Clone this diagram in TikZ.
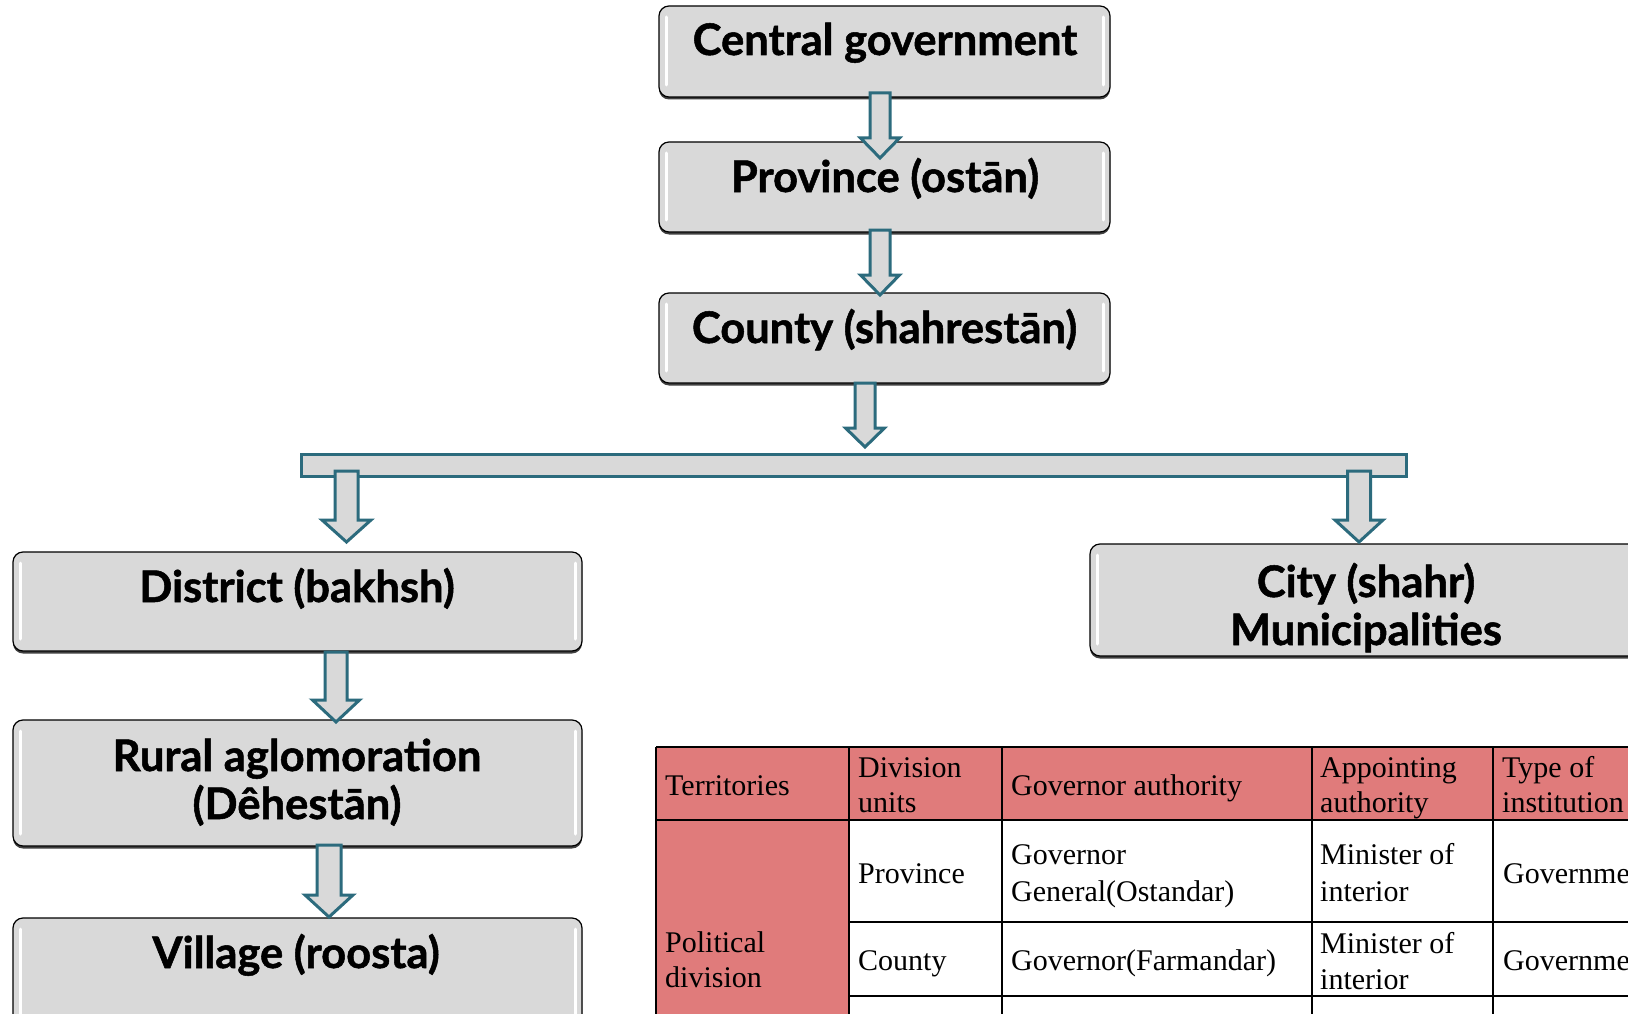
\documentclass[tikz,border=0pt]{standalone}
\usepackage{fontspec}
\setmainfont{Liberation Serif}
\newfontfamily\boxfont{Lato}[BoldFeatures={FakeBold=1.2}]
\usetikzlibrary{shadows}
\definecolor{boxgray}{HTML}{D9D9D9}
\definecolor{arrteal}{HTML}{2C6B7D}
\definecolor{tabred}{HTML}{E07B7B}
\tikzset{
 levelbox/.style={draw=black, line width=1.2pt, fill=boxgray, rounded corners=10pt, inner sep=0pt, outer sep=0pt,
   drop shadow={shadow xshift=0pt, shadow yshift=-2.5pt, fill=black!75, opacity=1}},
 boxtext/.style={font=\boxfont\bfseries\fontsize{43.5}{48}\selectfont, inner sep=0pt, anchor=base},
 hlstrip/.style={draw=white, line width=3pt, line cap=round},
 barrow/.style={draw=arrteal, fill=boxgray, line width=3pt, line join=miter},
 barstyle/.style={draw=arrteal, fill=boxgray, line width=3pt, inner sep=0pt, outer sep=0pt},
 tabtext/.style={font=\fontsize{30}{35}\selectfont, inner sep=0pt, anchor=base west},
 tabline/.style={draw=black, line width=2.2pt},
}
\newcommand\blockdown[6]{%
 \draw[barrow] ({#1-#5},#2) -- ({#1-#5},#3) -- ({#1-#6},#3) -- (#1,#4) -- ({#1+#6},#3) -- ({#1+#5},#3) -- ({#1+#5},#2) -- cycle;}
\newcommand\hlstrips[1]{%
 \draw[hlstrip] ([xshift=7pt,yshift=-11pt]#1.north west) -- ([xshift=7pt,yshift=12pt]#1.south west);
 \draw[hlstrip] ([xshift=-7pt,yshift=-11pt]#1.north east) -- ([xshift=-7pt,yshift=12pt]#1.south east);}
\begin{document}
\begin{tikzpicture}[x=1pt,y=-1pt]
\useasboundingbox (0,0) rectangle (1628,1014);
\clip (0,0) rectangle (1628,1014);
\fill[white] (0,0) rectangle (1628,1014);

% ---------- table ----------
\fill[tabred] (656,747) rectangle (1660,820);
\fill[tabred] (656,820) rectangle (849,1030);
\draw[tabline] (656,747) -- (1660,747);
\draw[tabline] (656,820) -- (1660,820);
\draw[tabline] (849,922) -- (1660,922);
\draw[tabline] (849,996) -- (1660,996);
\foreach \xx in {656,849,1002,1312,1493} \draw[tabline] (\xx,747) -- (\xx,1030);

\node[tabtext] (h1) at (665,795) {Territories};
\node[tabtext] (h2a) at (858,777) {Division};
\node[tabtext] (h2b) at (858,812) {units};
\node[tabtext] (h3) at (1011,795) {Governor authority};
\node[tabtext] (h4a) at (1320,777) {Appointing};
\node[tabtext] (h4b) at (1320,812) {authority};
\node[tabtext] (h5a) at (1502,777) {Type of};
\node[tabtext] (h5b) at (1502,812) {institution};

\node[tabtext] (r1c2) at (858,883) {Province};
\node[tabtext] (r1c3a) at (1011,864) {Governor};
\node[tabtext] (r1c3b) at (1011,901) {General(Ostandar)};
\node[tabtext] (r1c4a) at (1320,864) {Minister of};
\node[tabtext] (r1c4b) at (1320,901) {interior};
\node[tabtext] (r1c5) at (1503,883) {Government};

\node[tabtext] (r2c2) at (858,970) {County};
\node[tabtext] (r2c3) at (1011,970) {Governor(Farmandar)};
\node[tabtext] (r2c4a) at (1320,953) {Minister of};
\node[tabtext] (r2c4b) at (1320,989) {interior};
\node[tabtext] (r2c5) at (1503,970) {Government};

\node[tabtext] (pd1) at (665,952) {Political};
\node[tabtext] (pd2) at (665,987) {division};

% ---------- boxes ----------
\node[levelbox, minimum width=451, minimum height=91] (cg) at (884.5,51.5) {};
\node[levelbox, minimum width=451, minimum height=90] (prov) at (884.5,187) {};
\node[levelbox, minimum width=451, minimum height=90] (cnty) at (884.5,338) {};
\node[levelbox, minimum width=569, minimum height=99] (dist) at (297.5,601.5) {};
\node[levelbox, minimum width=569, minimum height=126] (rural) at (297.5,783) {};
\node[levelbox, minimum width=569, minimum height=150] (vill) at (297.5,993) {};
\node[levelbox, minimum width=569, minimum height=112] (city) at (1374.5,600) {};
\foreach \b in {cg,prov,cnty,dist,rural,vill,city} {\hlstrips{\b}}

\node[boxtext] (cgt) at (885,55) {Central government};
\node[boxtext] (provt) at (885,192) {Province (ostān)};
\node[boxtext] (cntyt) at (884.5,343) {County (shahrestān)};
\node[boxtext] (distt) at (297,602) {District (bakhsh)};
\node[boxtext] (ruralt1) at (297,771) {Rural aglomoration};
\node[boxtext] (ruralt2) at (297,819) {(Dêhestān)};
\node[boxtext] (villt) at (296,968) {Village (roosta)};
\node[boxtext] (cityt1) at (1366,597) {City (shahr)};
\node[boxtext] (cityt2) at (1366,645) {Municipalities};

% ---------- arrows ----------
\blockdown{880}{93}{138}{158}{10}{19.5}
\blockdown{880}{230}{275}{295}{10}{19.5}
\blockdown{865}{383}{428}{447}{10}{19.5}
\node[barstyle, minimum width=1105, minimum height=22] (bar) at (853.5,465) {};
\blockdown{346.5}{471}{520}{542}{11.5}{24.5}
\blockdown{1359}{471}{520}{542}{11.5}{24}
\blockdown{336}{652}{700}{722}{11}{23.5}
\blockdown{329}{845}{895}{917}{12}{24}
\end{tikzpicture}
\end{document}
